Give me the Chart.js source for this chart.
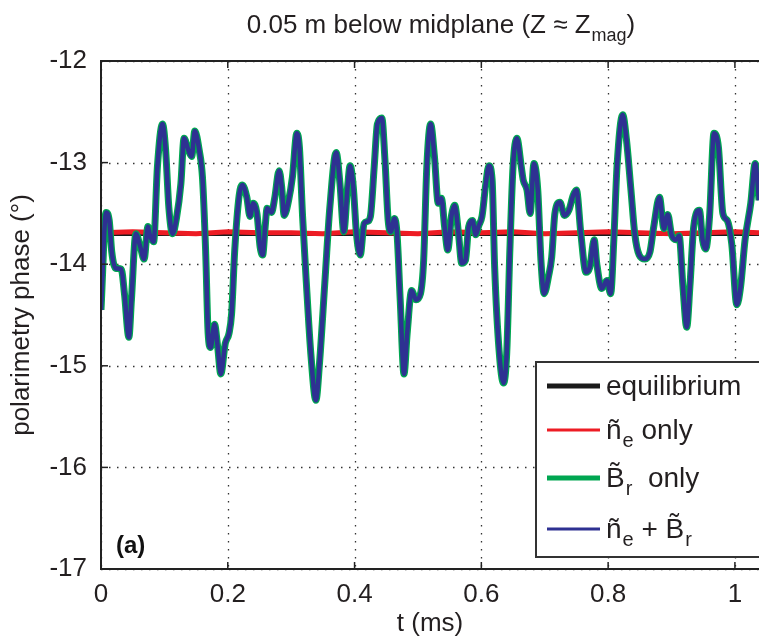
<!DOCTYPE html>
<html>
<head>
<meta charset="utf-8">
<script src="https://cdn.jsdelivr.net/npm/chart.js@4/dist/chart.umd.min.js"></script>
<style>
body{margin:0;background:#fff;}
canvas{display:block;}
</style>
</head>
<body>
<canvas id="phaseChart" width="759" height="642"></canvas>
<script>

// time axis (ms) of the traced curve
const timeMs = [
0,0.008,0.013,0.017,0.023,0.032,0.037,0.044,0.048,0.055,0.062,0.068,0.074,0.077,0.083,0.089,0.097,0.102,0.107,0.113,
0.119,0.126,0.131,0.138,0.143,0.148,0.155,0.160,0.165,0.169,0.173,0.179,0.184,0.189,0.196,0.202,0.206,0.211,0.218,0.223,
0.230,0.235,0.240,0.246,0.251,0.255,0.259,0.262,0.269,0.274,0.281,0.285,0.289,0.296,0.302,0.309,0.313,0.318,0.324,0.331,
0.339,0.345,0.353,0.361,0.371,0.377,0.383,0.389,0.393,0.398,0.403,0.409,0.415,0.420,0.425,0.431,0.436,0.443,0.448,0.453,
0.457,0.463,0.467,0.472,0.478,0.483,0.490,0.497,0.504,0.509,0.514,0.520,0.526,0.532,0.537,0.542,0.547,0.553,0.558,0.564,
0.569,0.575,0.580,0.586,0.591,0.596,0.601,0.607,0.612,0.617,0.621,0.628,0.635,0.640,0.645,0.650,0.656,0.663,0.666,0.672,
0.677,0.683,0.689,0.694,0.699,0.706,0.711,0.716,0.724,0.731,0.738,0.745,0.750,0.757,0.765,0.771,0.778,0.782,0.790,0.798,
0.804,0.809,0.814,0.823,0.829,0.836,0.842,0.849,0.858,0.866,0.872,0.881,0.888,0.894,0.900,0.907,0.912,0.918,0.924,0.929,
0.935,0.944,0.949,0.954,0.960,0.967,0.974,0.981,0.988,0.995,1.003,1.009,1.016,1.025,1.032,1.038
];

// ne + Br phase (deg); Br only lies on top of it
const phaseBoth = [
-14.45,-13.49,-13.57,-13.88,-14.04,-14.05,-14.29,-14.72,-14.35,-13.70,-13.83,-13.95,-13.63,-13.71,-13.78,-13.04,-12.62,-12.88,-13.44,-13.70,
-13.55,-13.21,-12.76,-12.88,-12.94,-12.69,-12.88,-13.14,-13.86,-14.68,-14.82,-14.59,-14.81,-15.08,-14.78,-14.68,-14.49,-13.86,-13.32,-13.22,
-13.34,-13.53,-13.40,-13.50,-13.83,-13.91,-13.63,-13.45,-13.49,-13.35,-13.08,-13.24,-13.52,-13.37,-13.14,-12.71,-12.85,-13.53,-14.19,-14.88,
-15.34,-14.95,-14.19,-13.44,-12.90,-13.21,-13.68,-13.24,-13.03,-13.24,-13.70,-13.91,-13.60,-13.58,-13.53,-13.04,-12.62,-12.56,-12.98,-13.57,
-13.68,-13.55,-13.70,-14.35,-15.08,-14.68,-14.26,-14.35,-14.29,-13.96,-13.04,-12.62,-12.94,-13.40,-13.35,-13.63,-13.86,-13.52,-13.42,-13.70,
-13.99,-13.96,-13.63,-13.57,-13.71,-13.62,-13.53,-13.21,-13.03,-13.17,-14.03,-14.85,-15.17,-14.88,-13.86,-13.04,-12.76,-13.04,-13.17,-13.27,
-13.50,-13.01,-13.27,-13.96,-14.29,-14.12,-13.93,-13.50,-13.39,-13.52,-13.47,-13.32,-13.27,-13.70,-14.08,-14.03,-13.76,-13.99,-14.24,-14.16,
-14.29,-13.76,-13.04,-12.53,-12.78,-13.27,-13.70,-13.91,-13.95,-13.88,-13.63,-13.34,-13.65,-13.51,-13.71,-13.76,-13.72,-14.22,-14.62,-14.22,
-13.63,-13.47,-13.76,-13.85,-13.53,-12.71,-12.85,-13.50,-13.57,-13.80,-14.40,-14.22,-13.76,-13.40,-13.01,-13.37
];

// ne only: nearly flat with small ripples
const neTime = [0,0.05,0.1,0.15,0.2,0.25,0.3,0.35,0.4,0.45,0.5,0.55,0.6,0.65,0.7,0.75,0.8,0.85,0.9,0.95,1.0,1.038];
const nePhase = [-13.69,-13.68,-13.69,-13.70,-13.68,-13.69,-13.69,-13.70,-13.68,-13.69,-13.70,-13.68,-13.69,-13.68,-13.70,-13.69,-13.68,-13.69,-13.70,-13.69,-13.68,-13.69];

// equilibrium: constant
const eqTime = [0,1.038];
const eqPhase = [-13.71,-13.71];

const yTicks = [-17,-16,-15,-14,-13,-12];
const xTicks = [0,0.2,0.4,0.6,0.8,1];

const FONT = "'Liberation Sans', Arial, sans-serif";

function toPoints(xs,ys){
return xs.map((x,i)=>({x:x,y:ys[i]}));
}

// legend rows: colour, line width, text parts [text, isSub]
const legendRows = [
{color:"#1a1a1a",width:5,parts:[["equilibrium",false]]},
{color:"#ed1c24",width:3,parts:[["\u00f1",false],["e",true],[" only",false]]},
{color:"#00a651",width:5,parts:[["B\u0303",false],["r",true],["  only",false]]},
{color:"#2e3192",width:3,parts:[["\u00f1",false],["e",true],[" + ",false],["B\u0303",false],["r",true]]}
];

function drawParts(ctx,parts,x,y,size){
parts.forEach(p=>{
if(p[1]){
ctx.font = Math.round(size*0.7)+"px "+FONT;
ctx.fillText(p[0],x+1,y+8);
x += ctx.measureText(p[0]).width+1;
}else{
ctx.font = size+"px "+FONT;
ctx.fillText(p[0],x,y);
x += ctx.measureText(p[0]).width;
}
});
return x;
}

function partsWidth(ctx,parts,size){
let w = 0;
parts.forEach(p=>{
ctx.font = (p[1]?Math.round(size*0.7):size)+"px "+FONT;
w += ctx.measureText(p[0]).width+(p[1]?1:0);
});
return w;
}

const decor = {
id:"decor",
beforeDatasetsDraw(chart){
const ctx = chart.ctx;
const a = chart.chartArea;
const xs = chart.scales.x;
const ys = chart.scales.y;
ctx.save();
ctx.strokeStyle = "#333";
ctx.lineWidth = 1.3;
ctx.setLineDash([1.5,6.5]);
xTicks.forEach(t=>{
const px = Math.round(xs.getPixelForValue(t))+0.5;
ctx.beginPath();
ctx.moveTo(px,a.top);
ctx.lineTo(px,a.bottom);
ctx.stroke();
});
yTicks.forEach(t=>{
const py = Math.round(ys.getPixelForValue(t))+0.5;
ctx.beginPath();
ctx.moveTo(a.left,py);
ctx.lineTo(a.right,py);
ctx.stroke();
});
ctx.restore();
},
afterDatasetsDraw(chart){
const ctx = chart.ctx;
const a = chart.chartArea;
const xs = chart.scales.x;
const ys = chart.scales.y;
ctx.save();

// axes frame (right side is cut off by the picture)
ctx.strokeStyle = "#222";
ctx.lineWidth = 2;
ctx.beginPath();
ctx.moveTo(a.right,a.top);
ctx.lineTo(a.left,a.top);
ctx.lineTo(a.left,a.bottom);
ctx.lineTo(a.right,a.bottom);
ctx.stroke();

// inward ticks
ctx.lineWidth = 1.5;
yTicks.forEach(t=>{
const py = ys.getPixelForValue(t);
ctx.beginPath();
ctx.moveTo(a.left,py);
ctx.lineTo(a.left+7,py);
ctx.stroke();
});
xTicks.forEach(t=>{
const px = xs.getPixelForValue(t);
ctx.beginPath();
ctx.moveTo(px,a.bottom);
ctx.lineTo(px,a.bottom-7);
ctx.moveTo(px,a.top);
ctx.lineTo(px,a.top+7);
ctx.stroke();
});

// legend box
const bx = 536, by = 362, bw = 240, bh = 195;
ctx.fillStyle = "#fff";
ctx.fillRect(bx,by,bw,bh);
ctx.strokeStyle = "#333";
ctx.lineWidth = 2;
ctx.strokeRect(bx,by,bw,bh);
const rowY = [386,430,478,529];
legendRows.forEach((r,i)=>{
ctx.strokeStyle = r.color;
ctx.lineWidth = r.width;
ctx.beginPath();
ctx.moveTo(547,rowY[i]);
ctx.lineTo(600,rowY[i]);
ctx.stroke();
ctx.fillStyle = "#231f20";
ctx.textBaseline = "alphabetic";
ctx.textAlign = "left";
drawParts(ctx,r.parts,606,rowY[i]+9,28);
});

// panel label
ctx.fillStyle = "#111";
ctx.font = "bold 24px "+FONT;
ctx.fillText("(a)",116,553);

// title with subscript
const titleParts = [["0.05 m below midplane (Z \u2248 Z",false],["mag",true],[")",false]];
const tw = partsWidth(ctx,titleParts,26);
ctx.fillStyle = "#231f20";
drawParts(ctx,titleParts,441-tw/2,33,26);

ctx.restore();
}
};

new Chart(
document.getElementById("phaseChart"),
{
type:"line",
data:{
datasets:[
{
label:"ne + Br",
data:toPoints(timeMs,phaseBoth),
borderColor:"#2e3192",
borderWidth:4.5,
pointRadius:0,
cubicInterpolationMode:"monotone",
order:0
},
{
label:"Br only",
data:toPoints(timeMs,phaseBoth),
borderColor:"#00a651",
borderWidth:7,
pointRadius:0,
cubicInterpolationMode:"monotone",
order:1
},
{
label:"ne only",
data:toPoints(neTime,nePhase),
borderColor:"#ed1c24",
borderWidth:5,
pointRadius:0,
order:2
},
{
label:"equilibrium",
data:toPoints(eqTime,eqPhase),
borderColor:"#1a1a1a",
borderWidth:2.5,
pointRadius:0,
order:3
}
]
},
options:{
responsive:false,
animation:false,
devicePixelRatio:1,
layout:{padding:{top:61,right:0,left:0,bottom:0}},
plugins:{
legend:{display:false},
tooltip:{enabled:false}
},
scales:{
x:{
type:"linear",
min:0,
max:1.038,
grid:{display:false},
border:{display:false},
afterFit(scale){scale.height = 73;},
afterBuildTicks(scale){scale.ticks = xTicks.map(v=>({value:v}));},
ticks:{
color:"#231f20",
padding:2,
maxRotation:0,
font:{family:FONT,size:26},
callback:v=>String(v)
},
title:{
display:true,
text:"t (ms)",
color:"#231f20",
padding:{top:0,bottom:3},
font:{family:FONT,size:26}
}
},
y:{
min:-17,
max:-12,
grid:{display:false},
border:{display:false},
afterFit(scale){scale.width = 101;},
afterBuildTicks(scale){scale.ticks = yTicks.map(v=>({value:v}));},
ticks:{
color:"#231f20",
padding:6,
font:{family:FONT,size:26},
callback:v=>String(v)
},
title:{
display:true,
text:"polarimetry phase (\u00b0)",
color:"#231f20",
padding:{top:6,bottom:0},
font:{family:FONT,size:26}
}
}
}
},
plugins:[decor]
}
);

</script>
</body>
</html>
